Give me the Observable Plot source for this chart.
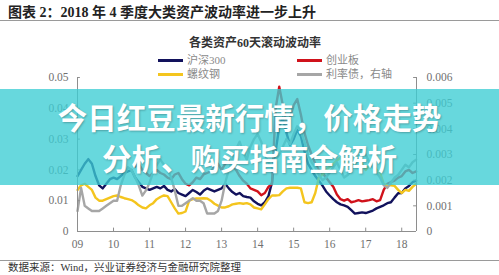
<!DOCTYPE html>
<html><head><meta charset="utf-8">
<script src="https://cdn.jsdelivr.net/npm/d3@7"></script>
<script src="https://cdn.jsdelivr.net/npm/@observablehq/plot@0.6"></script>
<style>
body{margin:0;background:#fff;}
#root{position:relative;width:499px;height:275px;overflow:hidden;font-family:"Liberation Serif","DejaVu Serif","Noto Sans CJK SC",serif;}
#root svg{position:absolute;left:0;top:0;}
.abs{position:absolute;white-space:nowrap;}
.title{left:8px;top:4px;font-size:14px;font-weight:bold;color:#222;line-height:18px;}
.hr{left:0;width:499px;height:1px;background:#9a9a9a;}
.ctitle{left:0;width:510px;text-align:center;top:35px;font-size:12px;font-weight:bold;color:#333;line-height:16px;}
.lg{font-size:11px;color:#8a8a8a;line-height:14px;}
.lgline{height:2.5px;width:25px;}
.foot{left:8px;top:261px;font-size:10.5px;color:#333;line-height:14px;}
.banner{left:0;top:89px;width:499px;height:96px;background:rgba(60,205,212,0.78);}
.btxt{left:0;width:499px;text-align:center;color:#fff;font-family:"Noto Sans CJK SC","Noto Sans",sans-serif;font-weight:bold;font-size:29.5px;line-height:36px;text-shadow:1px 1px 2px rgba(0,0,0,0.25);}
</style></head><body><div id="root"></div>
<script>
const years = [2009.0,2009.1,2009.2,2009.3,2009.4,2009.5,2009.6,2009.7,2009.8,2009.9,
2010.0,2010.1,2010.2,2010.3,2010.4,2010.5,2010.6,2010.7,2010.8,2010.9,
2011.0,2011.1,2011.2,2011.3,2011.4,2011.5,2011.6,2011.7,2011.8,2011.9,
2012.0,2012.1,2012.2,2012.3,2012.4,2012.5,2012.6,2012.7,2012.8,2012.9,
2013.0,2013.1,2013.2,2013.3,2013.4,2013.5,2013.6,2013.7,2013.8,2013.9,
2014.0,2014.1,2014.2,2014.3,2014.4,2014.5,2014.6,2014.7,2014.8,2014.9,
2015.0,2015.1,2015.2,2015.3,2015.4,2015.5,2015.6,2015.7,2015.8,2015.9,
2016.0,2016.1,2016.2,2016.3,2016.4,2016.5,2016.6,2016.7,2016.8,2016.9,
2017.0,2017.1,2017.2,2017.3,2017.4,2017.5,2017.6,2017.7,2017.8,2017.9,
2018.0,2018.1,2018.2,2018.3,2018.4];

const hs300 = [0.018,0.020,0.022,0.0235,0.022,0.018,0.015,0.014,0.0155,0.017,
0.0175,0.017,0.018,0.019,0.0195,0.020,0.0175,0.016,0.0145,0.014,
0.0135,0.014,0.0145,0.014,0.0148,0.0135,0.013,0.0138,0.0125,0.012,
0.0115,0.0125,0.0135,0.0128,0.012,0.0132,0.014,0.0135,0.013,0.0135,
0.014,0.0155,0.014,0.0128,0.012,0.0125,0.0115,0.0112,0.011,0.0098,
0.009,0.0085,0.0095,0.0115,0.016,0.026,0.034,0.037,0.032,0.028,
0.030,0.033,0.031,0.026,0.022,0.020,0.018,0.0165,0.0149,0.013,
0.0117,0.0105,0.0095,0.0088,0.0085,0.008,0.0069,0.0058,0.006,0.0062,
0.006,0.0064,0.0068,0.0075,0.008,0.0085,0.0092,0.0095,0.011,0.0124,
0.0125,0.014,0.0148,0.016,0.0165];

const cyb = [null,null,null,null,null,null,null,null,null,null,
null,null,null,null,null,null,0.021,0.022,0.020,0.019,
0.018,0.019,0.020,0.019,0.0185,0.0175,0.017,0.0185,0.019,0.017,
0.0155,0.015,0.016,0.0175,0.017,0.0185,0.019,0.0195,0.021,0.022,
0.020,0.022,0.023,0.0215,0.020,0.018,0.0165,0.0155,0.014,0.0135,
0.013,0.0118,0.0125,0.0145,0.0155,0.040,0.047,0.041,0.035,0.037,
0.041,0.043,0.038,0.032,0.028,0.025,0.022,0.020,0.019,0.0175,
0.016,0.0145,0.012,0.0105,0.010,0.0105,0.0095,0.0098,0.0102,0.0098,
0.010,0.0102,0.0105,0.0098,0.0102,0.0135,0.0155,0.016,0.0165,0.0175,
0.018,0.0195,0.020,0.019,0.0195];

const rebar = [0.0135,0.015,0.0155,0.0145,0.0135,0.011,0.010,0.010,0.0105,0.011,
0.0115,0.0117,0.0112,0.0108,0.0105,0.0102,0.0095,0.0085,0.0078,0.0075,
0.0085,0.0092,0.0105,0.0112,0.0117,0.0115,0.0095,0.0075,0.0058,0.006,
0.0065,0.010,0.0105,0.0107,0.0107,0.0108,0.0107,0.010,0.009,0.0084,
0.0078,0.0078,0.0082,0.0088,0.009,0.0092,0.009,0.0092,0.0088,0.0078,
0.0075,0.0072,0.0088,0.0105,0.0117,0.0117,0.0118,0.013,0.014,0.0142,
0.0142,0.0142,0.014,0.0095,0.0092,0.0095,0.0125,0.0175,0.0185,0.020,
0.021,0.022,0.023,0.024,0.023,0.022,0.021,0.022,0.024,0.022,
0.020,0.0215,0.022,0.020,0.019,0.0155,0.015,0.015,0.0148,0.0135,
0.0125,0.0135,0.0132,0.0145,0.0155];

// right axis series
const bond = [0.0008,0.0017,0.0010,0.0009,0.0008,0.0008,0.0008,0.0009,0.0010,0.0011,
0.0012,0.0012,0.0018,0.0022,0.0025,0.0024,0.0021,0.0018,0.0014,0.0016,
0.0019,0.0023,0.0026,0.0028,0.0026,0.0024,0.0021,0.0016,0.0010,0.0010,
0.0011,0.0012,0.0013,0.0012,0.0012,0.0011,0.0007,0.0007,0.0007,0.0008,
0.0012,0.0019,0.0024,0.0028,0.0032,0.0035,0.0031,0.0028,0.0033,0.0036,
0.0038,0.0035,0.0030,0.0027,0.0025,0.0028,0.0030,0.0033,0.0036,0.0034,
0.0038,0.0041,0.0039,0.0035,0.0030,0.0027,0.0025,0.0022,0.0020,0.0021,
0.0023,0.0025,0.0027,0.0024,0.0021,0.0022,0.0024,0.0026,0.0029,0.0032,
0.0030,0.0027,0.0025,0.0023,0.0021,0.0018,0.0017,0.0019,0.0021,0.0022,
0.0024,0.0026,0.0025,0.0027,0.0028];

const xTicks = [2009,2010,2011,2012,2013,2014,2015,2016,2017,2018];
const xLabels = ["09","10","11","12","13","14","15","16","17","18"];
const leftTicks = [0,0.01,0.02,0.03,0.04,0.05];
const leftLabels = ["0","0.01","0.02","0.03","0.04","0.05"];
const rightTicks = [0,0.001,0.002,0.003,0.004,0.005,0.006];
const rightLabels = ["0","0.001","0.002","0.003","0.004","0.005","0.006"];
const seriesNames = ["沪深300","创业板","螺纹钢","利率债，右轴"];
const colors = ["#12125c","#d0121b","#f4c51e","#a6a6a6"];

const xMin = 2009, xMax = 2018.41, yMax = 0.05, rightMax = 0.006;
const k = yMax / rightMax;
const idx = years.map((_, i) => i);
const axisColor = "#8e8e8e";
const labelColor = "#707070";
const serif = '"Liberation Serif","DejaVu Serif",serif';

const series = [hs300, cyb, rebar, bond.map(v => v * k)];

const plot = Plot.plot({
  width: 499, height: 275,
  marginTop: 77, marginBottom: 44, marginLeft: 77, marginRight: 83,
  x: {domain: [xMin, xMax], axis: null},
  y: {domain: [0, yMax], axis: null},
  style: {fontFamily: serif, background: "transparent"},
  marks: [
    ...series.map((s, j) => Plot.line(idx, {
      x: i => years[i], y: i => s[i], stroke: colors[j], strokeWidth: 2.4,
      strokeLinejoin: "round", curve: "linear"
    })),
    Plot.ruleY([0], {x1: xMin, x2: xMax, stroke: axisColor, strokeWidth: 1}),
    Plot.ruleX([xMin, xMax], {y1: 0, y2: yMax, stroke: axisColor, strokeWidth: 1}),
    Plot.ruleX(xTicks, {y1: 0, y2: 0.0011, stroke: axisColor}),
    Plot.ruleY(leftTicks, {x1: xMin, x2: xMin + 0.08, stroke: axisColor}),
    Plot.ruleY(rightTicks.map(d => d * k), {x1: xMax - 0.08, x2: xMax, stroke: axisColor}),
    Plot.text(xTicks, {x: d => d, y: 0, text: (d, i) => xLabels[i], dy: 13, fontSize: 11.5, fontFamily: serif, fill: labelColor}),
    Plot.text(leftTicks, {x: xMin, y: d => d, text: (d, i) => leftLabels[i], dx: -9, textAnchor: "end", fontSize: 11.5, fontFamily: serif, fill: labelColor}),
    Plot.text(rightTicks, {x: xMax, y: d => d * k, text: (d, i) => rightLabels[i], dx: 10, textAnchor: "start", fontSize: 11.5, fontFamily: serif, fill: labelColor})
  ]
});

const root = document.getElementById("root");
root.appendChild(plot);

function add(cls, html, style) {
  const d = document.createElement("div");
  d.className = "abs " + cls;
  d.innerHTML = html;
  if (style) Object.assign(d.style, style);
  root.appendChild(d);
  return d;
}
add("title", "图表 2：2018 年 4 季度大类资产波动率进一步上升");
add("hr", "", {top: "20px"});
add("ctitle", "各类资产60天滚动波动率");
const lgPos = [[158, 60], [297, 60], [158, 74], [297, 74]];
seriesNames.forEach((n, j) => {
  const [lx, ly] = lgPos[j];
  add("lgline", "", {left: lx + "px", top: (ly - 1) + "px", background: colors[j]});
  add("lg", n, {left: (lx + 29) + "px", top: (ly - 7) + "px"});
});
add("hr", "", {top: "260px"});
add("foot", "数据来源：Wind，兴业证券经济与金融研究院整理");
add("banner", "");
add("btxt", "今日红豆最新行情，价格走势", {top: "98px"});
add("btxt", "分析、购买指南全解析", {top: "139px"});
</script></body></html>
